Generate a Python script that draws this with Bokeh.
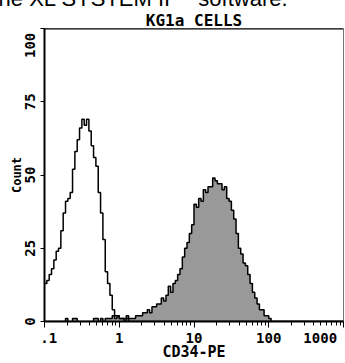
import numpy as np
from bokeh.plotting import figure
from bokeh.models import FixedTicker, Span, Range1d, Title
from bokeh.embed import file_html
from bokeh.resources import INLINE

# ---- data ----
title_text = "KG1a CELLS"
x_label = "CD34-PE"
y_label = "Count"
caption = "the XL SYSTEM II\u2122 software."
x_ticks = [0.1, 1, 10, 100, 1000]
x_tick_labels = [".1", "1", "10", "100", "1000"]
y_ticks = [0, 25, 50, 75, 100]
y_tick_labels = ["0", "25", "50", "75", "100"]
n_bins = 128            # channels over 4 decades (0.1 .. 1000)
log_min, log_max = -1, 3

control_counts = [13, 14, 16, 18, 21, 24, 25, 31, 37, 41, 42, 44, 52, 58, 62, 66,
                  69, 67, 69, 65, 60, 56, 53, 44, 37, 28, 17, 13, 9, 4, 2, 2,
                  1, 1, 0, 1]
cd34_counts = [0, 0, 0, 0, 0, 0, 0, 0, 0, 1, 0, 0, 1, 1, 0, 0,
               0, 0, 0, 0, 0, 1, 1, 0, 1, 0, 1, 1, 1, 2, 1, 2,
               1, 1, 1, 2, 1, 1, 1, 2, 2, 2, 3, 3, 4, 3, 5, 5,
               6, 6, 8, 7, 9, 12, 10, 13, 14, 16, 18, 22, 25, 27, 30, 33,
               40, 39, 42, 41, 45, 44, 46, 46, 49, 48, 47, 47, 45, 46, 42, 41,
               38, 35, 30, 25, 23, 20, 19, 16, 13, 10, 8, 6, 4, 4, 2, 2,
               1, 0]

MONO = "DejaVu Sans Mono"
NB = "\u00a0"
HIDDEN_TOP = 15   # part of the page above the visible window (cut caption)

edges = 10 ** np.linspace(log_min, log_max, n_bins + 1)

def step_series(counts):
    c = list(counts) + [0] * (n_bins - len(counts))
    return edges, np.array(c + [0], dtype=float)

p = figure(width=345, height=363 + HIDDEN_TOP, x_axis_type="log",
           x_range=Range1d(10 ** log_min, 10 ** log_max), y_range=Range1d(0, 100),
           output_backend="svg", toolbar_location=None, title_location=None,
           min_border_left=44, min_border_right=2, min_border_top=26 + HIDDEN_TOP,
           min_border_bottom=36,
           background_fill_color="white", border_fill_color="white")
p.margin = (-HIDDEN_TOP, 0, 0, 0)

# title just above the frame (first "above" panel = nearest the frame)
ttl = Title(text=title_text, align="center", standoff=-2,
            text_font=MONO, text_font_style="bold", text_font_size="16px",
            text_color="black")
p.add_layout(ttl, "above")

# caption fragment cut at the top of the picture
cap = Title(text=caption, align="left", offset=-52, standoff=-3,
            text_font="Liberation Sans", text_font_style="normal",
            text_font_size="22px", text_color="black")
p.add_layout(cap, "above")

xs, ys = step_series(cd34_counts)
p.varea_step(x=xs, y1=np.zeros_like(ys), y2=ys, step_mode="after", fill_color="#999999")
p.step(xs, ys, mode="after", line_color="black", line_width=1.5)

xc, yc = step_series(control_counts)
p.step(xc, yc, mode="after", line_color="black", line_width=1.5)

p.xgrid.visible = False
p.ygrid.visible = False
p.outline_line_color = "#777777"
p.outline_line_width = 1
p.add_layout(Span(location=100, dimension="width", line_color="black", line_width=2))

minor = [d * m for d in x_ticks[:-1] for m in range(2, 10)]
p.xaxis.ticker = FixedTicker(ticks=x_ticks, minor_ticks=minor)
xov = {t: l for t, l in zip(x_ticks, x_tick_labels)}
xov[x_ticks[0]] = NB + x_tick_labels[0]
xov[x_ticks[-1]] = x_tick_labels[-1] + NB
p.xaxis.major_label_overrides = xov
p.yaxis.ticker = FixedTicker(ticks=y_ticks)
yov = {t: l for t, l in zip(y_ticks, y_tick_labels)}
yov[y_ticks[-1]] = y_tick_labels[-1] + NB * 4
p.yaxis.major_label_overrides = yov
p.yaxis.major_label_orientation = "vertical"

for ax in (p.xaxis, p.yaxis):
    ax.axis_line_color = "black"
    ax.axis_line_width = 2
    ax.major_tick_line_color = "black"
    ax.minor_tick_line_color = "black"
    ax.major_tick_in = 0
    ax.minor_tick_in = 0
    ax.major_label_text_font = MONO
    ax.major_label_text_font_style = "bold"
    ax.major_label_text_font_size = "14px"
    ax.major_label_text_color = "black"
    ax.axis_label_text_font = MONO
    ax.axis_label_text_font_style = "bold"
    ax.axis_label_text_color = "black"

p.xaxis.axis_label = x_label
p.xaxis.axis_label_text_font_size = "15px"
p.xaxis.axis_label_standoff = -6
p.xaxis.major_tick_out = 6
p.xaxis.minor_tick_out = 4
p.xaxis.major_label_standoff = 2

p.yaxis.axis_label = y_label
p.yaxis.axis_label_text_font_size = "12px"
p.yaxis.axis_label_standoff = -5
p.yaxis.major_tick_out = 4
p.yaxis.minor_tick_line_color = None
p.yaxis.major_label_standoff = 3

open("out.html", "w").write(file_html(p, INLINE))
